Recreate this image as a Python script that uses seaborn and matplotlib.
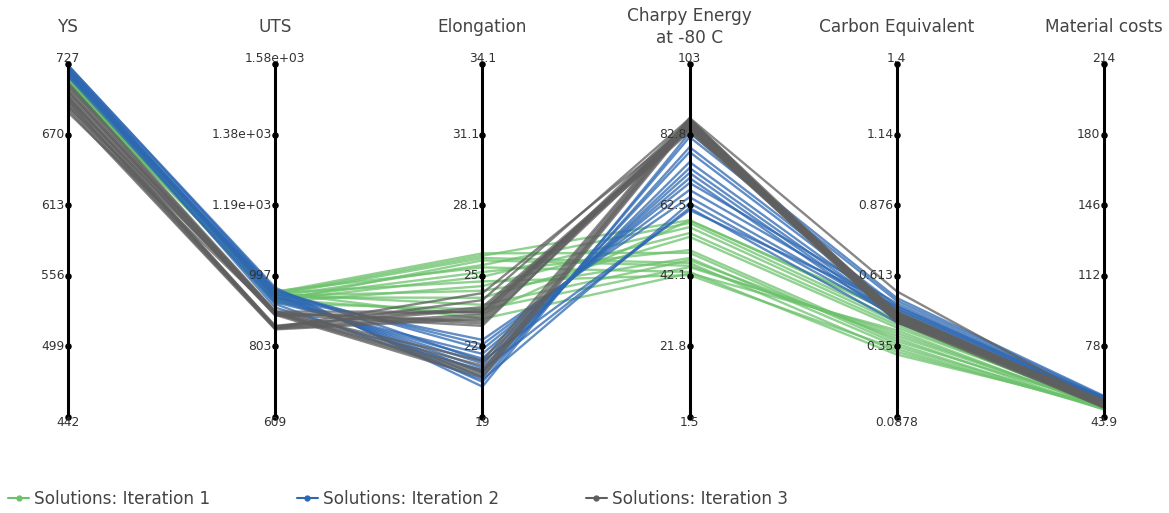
import numpy as np
import pandas as pd
import seaborn as sns
import matplotlib.pyplot as plt
from matplotlib.lines import Line2D

# ---------------- data ----------------
dims = ["YS", "UTS", "Elongation", "Charpy Energy\nat -80 C", "Carbon Equivalent", "Material costs"]
dim_min = [442, 609, 19, 1.5, 0.0878, 43.9]
dim_max = [727, 1580, 34.1, 103, 1.4, 214]
tick_labels = [
    ["442", "499", "556", "613", "670", "727"],
    ["609", "803", "997", "1.19e+03", "1.38e+03", "1.58e+03"],
    ["19", "22", "25", "28.1", "31.1", "34.1"],
    ["1.5", "21.8", "42.1", "62.5", "82.8", "103"],
    ["0.0878", "0.35", "0.613", "0.876", "1.14", "1.4"],
    ["43.9", "78", "112", "146", "180", "214"],
]
series_names = ["Solutions: Iteration 1", "Solutions: Iteration 2", "Solutions: Iteration 3"]

# Iteration 1 (green)
ys_1 = [718, 715, 712, 720, 716, 710, 714, 719, 713, 717, 711, 715, 721, 709, 716, 713]
uts_1 = [952, 948, 945, 940, 955, 935, 930, 950, 925, 942, 938, 946, 922, 933, 951, 928]
elo_1 = [26.0, 25.9, 25.8, 25.5, 25.4, 25.2, 25.0, 24.8, 24.6, 24.4, 24.1, 23.8, 23.6, 23.4, 23.2, 25.7]
cha_1 = [48.7, 58.1, 45.8, 57.3, 43.2, 49.5, 56.1, 42.3, 54.4, 47.2, 53.3, 46.6, 44.6, 58.0, 42.8, 45.0]
ce_1 = [0.36, 0.47, 0.33, 0.45, 0.32, 0.37, 0.44, 0.34, 0.43, 0.35, 0.42, 0.38, 0.40, 0.48, 0.41, 0.39]
cost_1 = [47.5, 48.0, 48.5, 49.0, 49.5, 50.0, 48.0, 47.8, 49.2, 48.3, 50.5, 47.6, 48.8, 49.8, 48.1, 49.4]

# Iteration 2 (blue)
ys_2 = [726, 724, 722, 721, 719, 725, 723, 720, 718, 722, 724, 717, 721, 726]
uts_2 = [965, 958, 950, 945, 940, 935, 930, 925, 955, 948, 938, 920, 910, 960]
elo_2 = [20.3, 20.5, 20.7, 20.9, 21.1, 21.3, 21.5, 21.7, 21.9, 22.1, 22.3, 20.6, 21.0, 21.4]
cha_2 = [83.2, 82.0, 79.1, 77.7, 74.8, 73.1, 71.7, 70.2, 68.8, 66.8, 64.7, 63.0, 61.6, 61.0]
ce_2 = [0.53, 0.52, 0.50, 0.49, 0.48, 0.47, 0.46, 0.45, 0.51, 0.49, 0.47, 0.46, 0.44, 0.50]
cost_2 = [54.0, 53.5, 53.0, 52.5, 52.0, 51.5, 51.0, 53.2, 52.8, 51.8, 50.5, 50.0, 53.8, 52.2]

# Iteration 3 (gray)
ys_3 = [712, 710, 708, 706, 704, 702, 700, 698, 696, 694, 692, 690, 688, 705, 699, 701, 697, 693]
uts_3 = [900, 898, 896, 895, 893, 890, 888, 860, 858, 855, 852, 850, 894, 897, 891, 856, 853, 899]
elo_3 = [21.4, 21.2, 21.0, 20.9, 20.8, 20.7, 23.5, 23.7, 23.6, 23.4, 23.3, 23.2, 23.1, 23.0, 22.9, 24.3, 24.0, 23.5]
cha_3 = [87.5, 87.2, 86.8, 86.5, 86.0, 85.5, 85.0, 84.5, 84.0, 83.5, 87.0, 86.2, 85.8, 84.8, 86.6, 85.2, 87.3, 84.2]
ce_3 = [0.555, 0.47, 0.46, 0.45, 0.465, 0.455, 0.445, 0.44, 0.475, 0.46, 0.45, 0.47, 0.455, 0.465, 0.44, 0.48, 0.45, 0.46]
cost_3 = [50.0, 51.5, 51.0, 50.5, 52.0, 49.5, 49.0, 48.5, 51.2, 50.8, 50.2, 49.8, 49.2, 48.8, 51.8, 50.4, 49.6, 48.4]

colors = {"Solutions: Iteration 1": "#6cc26c",
          "Solutions: Iteration 2": "#2e68b3",
          "Solutions: Iteration 3": "#5f5f5f"}

# ---------------- build long table ----------------
groups = [
    (series_names[0], [ys_1, uts_1, elo_1, cha_1, ce_1, cost_1]),
    (series_names[1], [ys_2, uts_2, elo_2, cha_2, ce_2, cost_2]),
    (series_names[2], [ys_3, uts_3, elo_3, cha_3, ce_3, cost_3]),
]
rows = []
line_id = 0
for name, cols in groups:
    for k in range(len(cols[0])):
        for d in range(len(dims)):
            v = cols[d][k]
            norm = (v - dim_min[d]) / (dim_max[d] - dim_min[d])
            rows.append({"line": line_id, "pos": d, "val": norm, "series": name})
        line_id += 1
df = pd.DataFrame(rows)

# ---------------- plot ----------------
sns.set_theme(style="white")
plt.rcParams["font.family"] = ["DejaVu Sans"]

W, H = 1169, 513
fig = plt.figure(figsize=(W / 100, H / 100), dpi=100)
ax = fig.add_axes([68 / W, (H - 417) / H, (1104 - 68) / W, 353 / H])

sns.lineplot(data=df, x="pos", y="val", hue="series", units="line", estimator=None,
             palette=colors, hue_order=series_names, sort=False, lw=1.7, alpha=0.75,
             ax=ax, legend=False)

ax.set_xlim(0, len(dims) - 1)
ax.set_ylim(0, 1)
ax.set_xlabel("")
ax.set_ylabel("")
ax.set_xticks([])
ax.set_yticks([])
for s in ax.spines.values():
    s.set_visible(False)

tick_fr = np.linspace(0, 1, 6)
lab_col = "#333333"
for i in range(len(dims)):
    ax.plot([i, i], [0, 1], color="black", lw=2.2, zorder=5, clip_on=False,
            solid_capstyle="butt")
    ax.scatter([i] * 6, tick_fr, s=22, color="black", zorder=6, clip_on=False,
               linewidths=0)
    labs = tick_labels[i]
    for j in range(1, 5):
        ax.annotate(labs[j], xy=(i, tick_fr[j]), xytext=(-2.5, 0), textcoords="offset points",
                    ha="right", va="center", fontsize=8.8, color=lab_col, zorder=7)
    ax.annotate(labs[5], xy=(i, 1), xytext=(0, -0.5), textcoords="offset points",
                ha="center", va="bottom", fontsize=8.8, color=lab_col, zorder=7)
    ax.annotate(labs[0], xy=(i, 0), xytext=(0, 0.5), textcoords="offset points",
                ha="center", va="top", fontsize=8.8, color=lab_col, zorder=7)
    ax.annotate(dims[i], xy=(i, 1), xytext=(0, 26.5), textcoords="offset points",
                ha="center", va="center", fontsize=12.2, color="#444444",
                linespacing=1.3, annotation_clip=False)

handles = [Line2D([0], [0], color=colors[n], lw=1.5, marker="o", markersize=3.5)
           for n in series_names]
fig.legend(handles, series_names, loc="center left", bbox_to_anchor=(8 / W, 1 - 499 / H),
           ncol=3, frameon=False, fontsize=12.2, handlelength=1.25, handletextpad=0.3,
           columnspacing=5.1, borderpad=0, borderaxespad=0, labelcolor="#444444")

fig.savefig("out.png", dpi=100)
